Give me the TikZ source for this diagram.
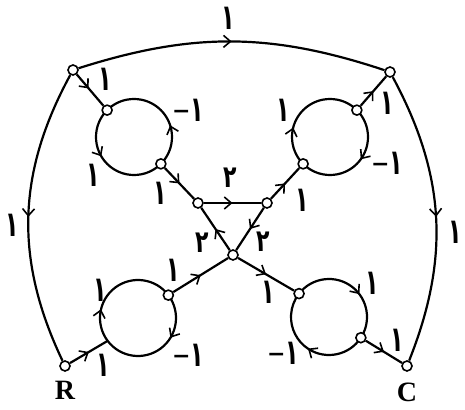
\documentclass[tikz,border=0pt]{standalone}
\usepackage{graphicx}
\usepackage{fontspec}
\setmainfont{Liberation Serif}
\newfontfamily\fa{DejaVu Sans}
\usetikzlibrary{arrows.meta,decorations.markings,calc}
\newcommand{\fone}{\scalebox{1}[1.6]{۱}}
\newcommand{\ftwo}{\scalebox{1}[1.4]{۲}}
\newcommand{\fneg}{\raisebox{2.5pt}{−}\fone}

\begin{document}
\begin{tikzpicture}[x=1pt, y=1pt, line width=2.2pt,
    pt/.style={circle, draw, fill=white, inner sep=0pt, minimum size=10pt, line width=1.6pt},
    midarrow/.style={postaction={decorate}, decoration={markings,
        mark=at position #1 with {\arrow{Straight Barb[length=7pt,width=12pt,line width=1.6pt]}}}},
    midarrow/.default=0.5,
    gain/.style={font=\fa\bfseries\fontsize{22}{22}\selectfont, inner sep=0pt},
    term/.style={font=\bfseries\fontsize{28}{28}\selectfont, inner sep=0pt}]
    \useasboundingbox (0,0) rectangle (465,409);

    % --- parameters ---
    \def\rad{38}      % loop radius
    \coordinate (c1) at (134,272);
    \coordinate (c2) at (330,272);
    \coordinate (c3) at (138,91);
    \coordinate (c4) at (329,92);

    % --- the four loops ---
    \draw[midarrow=0.42] ($(c1)+(135:\rad)$) arc[start angle=135, end angle=315, radius=\rad];
    \draw[midarrow=0.35] ($(c1)+(-45:\rad)$) arc[start angle=-45, end angle=135, radius=\rad];
    \draw[midarrow=0.33] ($(c2)+(225:\rad)$) arc[start angle=225, end angle=45, radius=\rad];
    \draw[midarrow=0.45] ($(c2)+(45:\rad)$) arc[start angle=45, end angle=-135, radius=\rad];
    \draw[midarrow=0.28] ($(c3)+(217:\rad)$) arc[start angle=217, end angle=37, radius=\rad];
    \draw[midarrow=0.38] ($(c3)+(37:\rad)$) arc[start angle=37, end angle=-143, radius=\rad];
    \draw[midarrow=0.6] ($(c4)+(142:\rad)$) arc[start angle=142, end angle=-33, radius=\rad];
    \draw[midarrow=0.49] ($(c4)+(-33:\rad)$) arc[start angle=-33, end angle=-218, radius=\rad];

    % --- nodes ---
    \node[pt] (TL) at (73,339) {};
    \node[pt] (TR) at (390,337) {};
    \node[pt] (R) at (65,43) {};
    \node[pt] (C) at (407,43) {};
    \node[pt] (e1) at ($(c1)+(135:\rad)$) {};
    \node[pt] (x1) at ($(c1)+(-45:\rad)$) {};
    \node[pt] (e2) at ($(c2)+(225:\rad)$) {};
    \node[pt] (x2) at ($(c2)+(45:\rad)$) {};
    \coordinate (e3) at ($(c3)+(217:\rad)$);
    \node[pt] (x3) at ($(c3)+(37:\rad)$) {};
    \node[pt] (e4) at ($(c4)+(142:\rad)$) {};
    \node[pt] (x4) at ($(c4)+(-33:\rad)$) {};
    \node[pt] (A) at (198,206) {};
    \node[pt] (B) at (267,206) {};
    \node[pt] (D) at (233,154) {};

    % --- outer branches ---
    \draw[midarrow] (TL) to[bend left=18] (TR);
    \draw[midarrow] (TL) to[bend right=27] (R);
    \draw[midarrow] (TR) to[bend left=25] (C);

    % --- straight branches ---
    \draw[midarrow=0.45] (TL) -- (e1);
    \draw[midarrow] (x1) -- (A);
    \draw[midarrow] (A) -- (B);
    \draw[midarrow] (B) -- (e2);
    \draw[midarrow] (x2) -- (TR);
    \draw[midarrow] (D) -- (A);
    \draw[midarrow] (B) -- (D);
    \draw[midarrow] (R) -- (e3);
    \draw[midarrow] (x3) -- (D);
    \draw[midarrow] (D) -- (e4);
    \draw[midarrow] (x4) -- (C);

    % --- gains ---
    \node[gain] (g1) at (228,391) {\fone};
    \node[gain] (g2) at (12,184) {\fone};
    \node[gain] (g3) at (455,177) {\fone};
    \node[gain] (g4) at (105,330) {\fone};
    \node[gain] (g5) at (188,299) {\fneg};
    \node[gain] (g6) at (93,234) {\fone};
    \node[gain] (g7) at (160,216) {\fone};
    \node[gain] (g8) at (230,231) {\ftwo};
    \node[gain] (g9) at (202,166) {\ftwo};
    \node[gain] (g10) at (263,167) {\ftwo};
    \node[gain] (g11) at (302,209) {\fone};
    \node[gain] (g12) at (283,299) {\fone};
    \node[gain] (g13) at (387,246) {\fneg};
    \node[gain] (g14) at (387,306) {\fone};
    \node[gain] (g15) at (100,119) {\fone};
    \node[gain] (g16) at (173,139) {\fone};
    \node[gain] (g17) at (188,54) {\fneg};
    \node[gain] (g18) at (103,44) {\fone};
    \node[gain] (g19) at (268,117) {\fone};
    \node[gain] (g20) at (372,126) {\fone};
    \node[gain] (g21) at (283,56) {\fneg};
    \node[gain] (g22) at (397,69) {\fone};

    % --- source and sink ---
    \node[term] (lR) at (65,19) {R};
    \node[term] (lC) at (407,17) {C};
\end{tikzpicture}
\end{document}
